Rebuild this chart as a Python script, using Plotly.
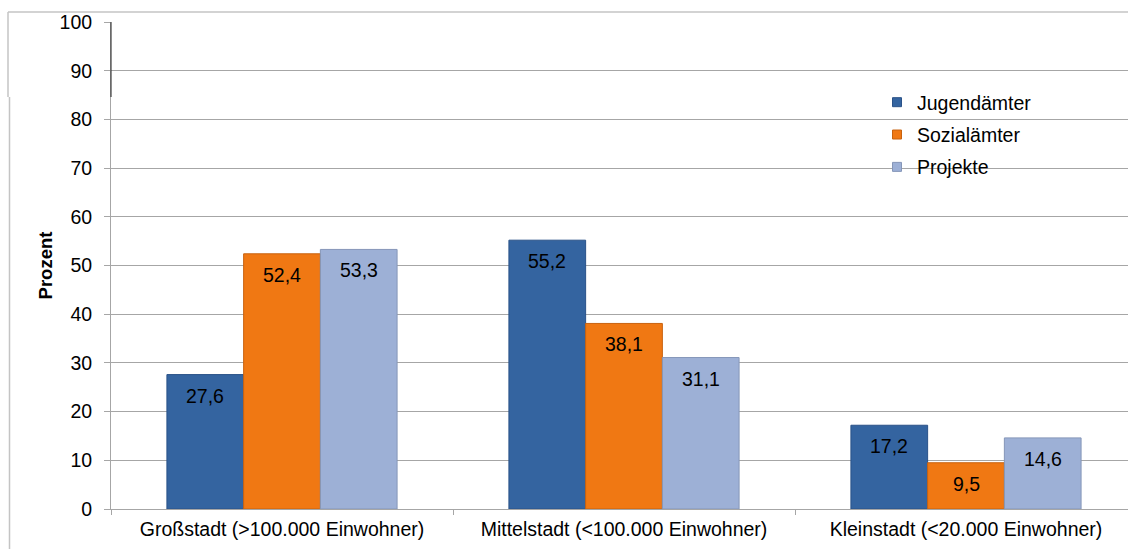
import plotly.graph_objects as go

categories = ["Großstadt (>100.000 Einwohner)", "Mittelstadt (<100.000 Einwohner)", "Kleinstadt (<20.000 Einwohner)"]
series_names = ["Jugendämter", "Sozialämter", "Projekte"]
jugendaemter = [27.6, 55.2, 17.2]
sozialaemter = [52.4, 38.1, 9.5]
projekte = [53.3, 31.1, 14.6]
y_ticks = [0, 10, 20, 30, 40, 50, 60, 70, 80, 90, 100]

values = [jugendaemter, sozialaemter, projekte]
colors = ["#3464A0", "#F07813", "#9DB0D6"]
line_colors = ["#2A5288", "#C8620F", "#8596B8"]

FONT = "Liberation Sans, Arial, sans-serif"
FS = 19.5

fig = go.Figure()
for name, vals, c, lc in zip(series_names, values, colors, line_colors):
    fig.add_trace(go.Bar(
        x=categories, y=vals, name=name, showlegend=False, legendgroup=name,
        marker=dict(color=c, line=dict(color=lc, width=1)),
    ))
# legend entries with small square symbols
for name, c, lc in zip(series_names, colors, line_colors):
    fig.add_trace(go.Scatter(
        x=[None], y=[None], mode="markers", name=name, legendgroup=name,
        marker=dict(symbol="square", size=9, color=c, line=dict(color=lc, width=1)),
    ))

W, L, R = 1128, 111, 0
T, B = 22, 40
H = 549
plot_w = W - L - R
plot_h = H - T - B
cat_px = 342.0
bar_px = cat_px * 0.673 / 3

annotations = []
for i, vals in enumerate(values):
    for j, v in enumerate(vals):
        annotations.append(dict(
            x=categories[j], y=v, xref="x", yref="y",
            text=f"{v:.1f}".replace(".", ","),
            showarrow=False, xshift=(i - 1) * bar_px, yshift=-21,
            font=dict(family=FONT, size=FS, color="#000000"),
        ))

def px_x(p):
    return (p - L) / plot_w

def px_y(p):
    return (H - B - p) / plot_h

border = "#C4C4C4"
shapes = [
    dict(type="line", xref="paper", yref="paper", x0=px_x(8), x1=1.02, y0=px_y(12), y1=px_y(12),
         line=dict(color=border, width=1.5)),
    dict(type="line", xref="paper", yref="paper", x0=px_x(8), x1=px_x(8), y0=px_y(12), y1=px_y(97),
         line=dict(color=border, width=1.5)),
    dict(type="line", xref="paper", yref="paper", x0=px_x(9.5), x1=px_x(9.5), y0=px_y(97), y1=px_y(560),
         line=dict(color=border, width=1.5)),
    dict(type="line", xref="paper", yref="y", x0=0, x1=0, y0=100, y1=84.6,
         line=dict(color="#404040", width=1.2)),
]

fig.update_layout(
    width=W, height=H,
    margin=dict(l=L, r=R, t=T, b=B),
    paper_bgcolor="white", plot_bgcolor="white",
    barmode="group", bargap=0.327, bargroupgap=0,
    font=dict(family=FONT, size=FS, color="#000000"),
    xaxis=dict(
        range=[-0.5, -0.5 + plot_w / cat_px],
        showgrid=False, showline=True, linecolor="#A6A6A6", linewidth=1,
        ticks="outside", tickson="boundaries", ticklen=5, tickcolor="#A6A6A6",
        ticklabelstandoff=3,
        tickfont=dict(family=FONT, size=FS, color="#000000"),
    ),
    yaxis=dict(
        range=[0, 100], tickvals=y_ticks, showgrid=True, gridcolor="#A6A6A6", gridwidth=1,
        showline=True, linecolor="#A6A6A6", linewidth=1,
        ticks="outside", ticklen=6, tickcolor="#A6A6A6", ticklabelstandoff=8,
        tickfont=dict(family=FONT, size=FS, color="#000000"),
        title=dict(text="<b>Prozent</b>", font=dict(family=FONT, size=18.5, color="#000000"), standoff=2),
        zeroline=False,
    ),
    legend=dict(
        x=px_x(877), y=px_y(83), xanchor="left", yanchor="top",
        bgcolor="rgba(0,0,0,0)", font=dict(family=FONT, size=FS, color="#000000"),
        itemwidth=30, tracegroupgap=4, traceorder="grouped",
    ),
    annotations=annotations,
    shapes=shapes,
)

fig.write_html("out.html")
